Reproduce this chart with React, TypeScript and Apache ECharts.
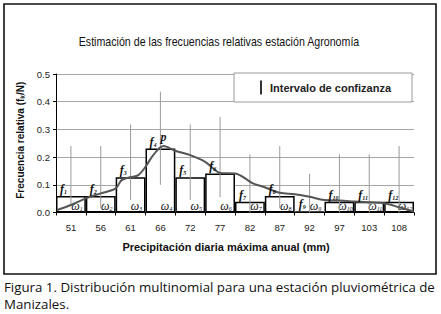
import React, { useEffect, useRef } from "react";
import * as echarts from "echarts";

const categories = ["51", "56", "61", "66", "72", "77", "82", "87", "92", "97", "103", "108"];
const relativeFrequency = [0.06, 0.06, 0.127, 0.231, 0.127, 0.141, 0.039, 0.06, 0.004, 0.039, 0.039, 0.039];
const ciLower = [0.025, 0.015, 0.045, 0.1, 0.045, 0.055, 0.0, 0.015, 0.0, 0.0, 0.0, 0.0];
const ciUpper = [0.24, 0.24, 0.318, 0.436, 0.318, 0.345, 0.21, 0.24, 0.14, 0.21, 0.21, 0.24];
const curveX = [0.04, 0.5, 1.0, 1.5, 2.0, 2.2, 2.48, 2.76, 3.0, 3.26, 3.6, 4.0, 4.5, 5.0, 5.27, 5.5, 6.0, 6.6, 6.95, 7.5, 8.0, 8.5, 9.0, 9.5, 10.0, 10.5, 11.0, 11.5, 12.0];
const curveY = [0.009, 0.027, 0.051, 0.069, 0.087, 0.117, 0.127, 0.135, 0.165, 0.207, 0.24, 0.223, 0.207, 0.183, 0.159, 0.143, 0.141, 0.105, 0.093, 0.071, 0.066, 0.057, 0.045, 0.043, 0.04, 0.037, 0.033, 0.019, 0.003];
const yTicks = [0, 0.1, 0.2, 0.3, 0.4, 0.5];
const titleText = "Estimación de las frecuencias relativas estación Agronomía";
const xName = "Precipitación diaria máxima anual (mm)";
const yName = "Frecuencia relativa (f{sub|k}/N)";
const legendName = "Intervalo de confizanza";
const captionLines = ["Figura 1. Distribución multinomial para una estación pluviométrica de", "Manizales."];

const SANS = "'Liberation Sans', Arial, sans-serif";
const SERIF = "'Liberation Serif', 'Times New Roman', serif";
const CAPTION = "'Open Sans', Lato, sans-serif";

export default function App() {
  const ref = useRef<HTMLDivElement>(null);
  useEffect(() => {
    if (!ref.current) return;
    const chart = echarts.init(ref.current, null, { renderer: "svg" });
    const peakIdx = curveY.indexOf(Math.max(...curveY));
    const option: any = {
      animation: false,
      backgroundColor: "#fff",
      legend: {
        data: [{ name: legendName, icon: "rect" }],
        left: 234,
        top: 73,
        padding: [7.5, 21, 7.5, 26],
        itemWidth: 2,
        itemHeight: 14,
        borderColor: "#9a9a9a",
        borderWidth: 1,
        backgroundColor: "#fff",
        selectedMode: false,
        textStyle: { fontFamily: SANS, fontWeight: "bold", fontSize: 11, color: "#222", padding: [0, 0, 0, 3] },
      },
      grid: { left: 56, right: 27, top: 74, bottom: 101.5 },
      xAxis: [
        {
          type: "category",
          data: categories,
          axisLine: { lineStyle: { color: "#000", width: 1 } },
          axisTick: { show: true, length: 3, lineStyle: { color: "#000" } },
          axisLabel: { margin: 10, fontFamily: SANS, fontSize: 9.5, color: "#222" },
          name: xName,
          nameLocation: "middle",
          nameGap: 29,
          nameTextStyle: { fontFamily: SANS, fontWeight: "bold", fontSize: 11, color: "#111", padding: [0, 18, 0, 0] },
        },
        { type: "value", min: 0, max: 12, show: false },
      ],
      yAxis: {
        type: "value",
        min: 0,
        max: 0.5,
        interval: 0.1,
        axisLine: { show: true, lineStyle: { color: "#000", width: 1 } },
        axisTick: { show: true, length: 3, lineStyle: { color: "#000" } },
        splitLine: { show: true, lineStyle: { color: "#a6a6a6", width: 1 } },
        axisLabel: {
          margin: 6,
          fontFamily: SANS,
          fontSize: 9.5,
          color: "#222",
          formatter: (v: number) => (yTicks.includes(Math.round(v * 10) / 10) ? v.toFixed(1) : ""),
        },
        name: yName,
        nameLocation: "middle",
        nameGap: 29,
        nameRotate: 90,
        nameTextStyle: {
          fontFamily: SANS,
          fontWeight: "bold",
          fontSize: 10,
          color: "#111",
          padding: [0, 0, 0, 6],
          rich: { sub: { fontFamily: SANS, fontWeight: "bold", fontSize: 6.5, verticalAlign: "bottom", color: "#111" } },
        },
      },
      series: [
        {
          type: "bar",
          name: "omega",
          data: relativeFrequency,
          barCategoryGap: "0%",
          barGap: "-100%",
          itemStyle: { color: "#fff", borderColor: "#000", borderWidth: 1.5 },
          z: 2,
          silent: true,
          label: {
            show: true,
            position: ["50%", "100%"],
            offset: [6, -7],
            align: "center",
            verticalAlign: "middle",
            formatter: (p: any) => `{w|ω}{s|${p.dataIndex + 1}}`,
            rich: {
              w: { fontFamily: SERIF, fontStyle: "italic", fontSize: 12, color: "#111" },
              s: { fontFamily: SERIF, fontStyle: "italic", fontSize: 6, color: "#111", verticalAlign: "bottom" },
            },
          },
        },
        {
          type: "bar",
          name: "f",
          data: relativeFrequency,
          barCategoryGap: "0%",
          barGap: "-100%",
          itemStyle: { color: "rgba(0,0,0,0)", borderWidth: 0 },
          z: 6,
          silent: true,
          label: {
            show: true,
            position: [4, -1],
            align: "left",
            verticalAlign: "bottom",
            formatter: (p: any) => `{f|f}{s|${p.dataIndex + 1}}`,
            rich: {
              f: { fontFamily: SERIF, fontStyle: "italic", fontWeight: "bold", fontSize: 12, color: "#111" },
              s: { fontFamily: SERIF, fontStyle: "italic", fontWeight: "bold", fontSize: 6, color: "#111", verticalAlign: "bottom" },
            },
          },
        },
        {
          type: "custom",
          name: legendName,
          data: categories.map((c, i) => [i, ciLower[i], ciUpper[i]]),
          encode: { x: 0, y: [1, 2] },
          itemStyle: { color: "#333" },
          z: 4,
          silent: true,
          renderItem: (params: any, api: any) => {
            const lo = api.coord([api.value(0), api.value(1)]);
            const hi = api.coord([api.value(0), api.value(2)]);
            return {
              type: "line",
              shape: { x1: lo[0], y1: lo[1], x2: hi[0], y2: hi[1] },
              style: { stroke: "#9a9a9a", lineWidth: 1 },
            };
          },
        },
        {
          type: "line",
          name: "p",
          xAxisIndex: 1,
          smooth: 0.35,
          showSymbol: true,
          symbolSize: 0,
          silent: true,
          z: 5,
          lineStyle: { color: "#555", width: 2 },
          itemStyle: { color: "#555" },
          data: curveX.map((x, i) =>
            i === peakIdx
              ? {
                  value: [x, curveY[i]],
                  label: {
                    show: true,
                    position: "top",
                    distance: 3,
                    formatter: "p",
                    fontFamily: SERIF,
                    fontStyle: "italic",
                    fontWeight: "bold",
                    fontSize: 12,
                    color: "#111",
                  },
                }
              : [x, curveY[i]]
          ),
        },
      ],
      graphic: [
        {
          type: "rect",
          shape: { x: 4, y: 4, width: 432, height: 270 },
          style: { fill: "none", stroke: "#111", lineWidth: 1.6 },
          silent: true,
        },
        {
          type: "text",
          x: 219,
          y: 42,
          scaleX: 0.82,
          style: {
            text: titleText,
            fontFamily: SANS,
            fontSize: 13,
            fill: "#111",
            textAlign: "center",
            textVerticalAlign: "middle",
          },
        },
        {
          type: "text",
          x: 4,
          y: 279,
          style: { text: captionLines[0], fontFamily: CAPTION, fontSize: 13.3, lineHeight: 16, fill: "#111", textVerticalAlign: "top" },
        },
        {
          type: "text",
          x: 4,
          y: 296,
          style: { text: captionLines[1], fontFamily: CAPTION, fontSize: 13.3, lineHeight: 16, fill: "#111", textVerticalAlign: "top" },
        },
      ],
    };
    chart.setOption(option);
    return () => chart.dispose();
  }, []);
  return (
    <div
      ref={ref}
      style={{ position: "fixed", left: 0, top: 0, width: 441, height: 314, background: "#fff" }}
    />
  );
}
